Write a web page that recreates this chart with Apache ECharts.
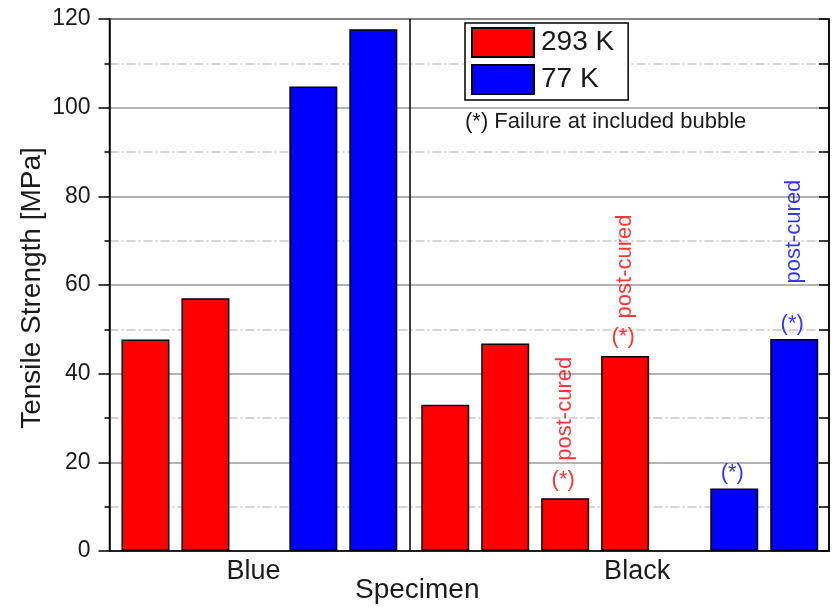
<!DOCTYPE html>
<html>
<head>
<meta charset="utf-8">
<script src="https://cdn.jsdelivr.net/npm/echarts@6/dist/echarts.min.js"></script>
<style>
html,body{margin:0;padding:0;background:#fff;}
#chart{width:832px;height:607px;}
</style>
</head>
<body>
<div id="chart"></div>
<script>
// ---- data ----
const categories = ['Blue', 'Black'];
const categoryPos = [12, 44];          // specimen-axis position of each group label
const dividerPos = 25;                 // boundary between groups
const seriesNames = ['293 K', '77 K'];
const pos293 = [3, 8, 28, 33, 38, 43];
const val293 = [47.7, 57.0, 33.0, 46.8, 11.9, 44.0];
const bubble293 = [0, 0, 0, 0, 1, 1];
const cured293 = [0, 0, 0, 0, 1, 1];
const pos77 = [17, 22, 52.1, 57.1];
const val77 = [104.8, 117.7, 14.1, 47.8];
const bubble77 = [0, 0, 1, 1];
const cured77 = [0, 0, 0, 1];
const yMin = 0, yMax = 120, yStep = 20;
const xMin = 0, xMax = 60;
const bubbleNote = '(*) Failure at included bubble';
const bubbleMark = '(*)';
const curedMark = 'post-cured';
const xTitle = 'Specimen';
const yTitle = 'Tensile Strength [MPa]';

// ---- helpers ----
const FONT = 'Liberation Sans, Arial, Helvetica, sans-serif';
const RED = '#ff0000', BLUE = '#0000ff', TXT = '#1a1a1a';
function pairs(pos, val, flags) {
  const out = [];
  pos.forEach((p, i) => { if (!flags || flags[i]) out.push([p, val[i]]); });
  return out;
}
function annot(name, data, text, color, opts) {
  return Object.assign({
    name: name, type: 'scatter', data: data, symbolSize: 1,
    itemStyle: {color: 'transparent'}, silent: true, z: 5,
    label: Object.assign({show: true, formatter: text, color: color,
      fontSize: 22, fontFamily: FONT}, opts)
  });
}

const chart = echarts.init(document.getElementById('chart'), null, {renderer: 'canvas'});
const option = {
  animation: false,
  backgroundColor: '#fff',
  grid: {left: 109.5, right: 2, top: 19, bottom: 56, show: true,
         borderColor: '#000', borderWidth: 1.5, backgroundColor: 'transparent'},
  legend: {
    data: seriesNames, orient: 'vertical', left: 465, top: 23,
    icon: 'rect',
    itemWidth: 62, itemHeight: 29, itemGap: 6,
    padding: [4, 14, 5, 6], borderColor: '#000', borderWidth: 1.5,
    backgroundColor: '#fff',
    textStyle: {fontSize: 28, color: TXT, fontFamily: FONT, padding: [0, 0, 0, 2]},
    selectedMode: false
  },
  xAxis: {
    type: 'value', min: xMin, max: xMax, interval: 4,
    axisLine: {show: true, lineStyle: {color: '#000', width: 1.5}},
    axisTick: {show: false}, splitLine: {show: false},
    axisLabel: {
      margin: 7, fontSize: 27, color: TXT, fontFamily: FONT,
      showMinLabel: true, showMaxLabel: true,
      formatter: function (v) {
        const i = categoryPos.findIndex(p => Math.abs(p - v) < 1e-6);
        return i >= 0 ? categories[i] : '';
      }
    }
  },
  yAxis: [{
    type: 'value', min: yMin, max: yMax, interval: yStep, position: 'left',
    axisLine: {show: true, lineStyle: {color: '#000', width: 1.5}},
    axisTick: {show: true, inside: false, length: 11, lineStyle: {color: '#000', width: 1.5}},
    minorTick: {show: true, splitNumber: 2, length: 5, lineStyle: {color: '#000', width: 1.5}},
    splitLine: {show: true, lineStyle: {color: '#9a9a9a', width: 1.5}},
    minorSplitLine: {show: true, lineStyle: {color: '#c8c8c8', width: 1.5, type: [9, 3, 2, 3]}},
    axisLabel: {margin: 19, fontSize: 23, color: TXT, fontFamily: FONT}
  }, {
    type: 'value', min: yMin, max: yMax, interval: yStep / 2, position: 'right',
    axisLine: {show: true, lineStyle: {color: '#000', width: 1.5}},
    axisTick: {show: true, inside: true, length: 10, lineStyle: {color: '#000', width: 1.5}},
    axisLabel: {show: false}, splitLine: {show: false}
  }],
  graphic: [
    {type: 'text', left: 355, top: 576,
     style: {text: xTitle, fontSize: 28, fill: TXT, fontFamily: FONT}},
    {type: 'text', x: 32, y: 288, rotation: Math.PI / 2,
     style: {text: yTitle, fontSize: 28, fill: TXT, fontFamily: FONT,
             align: 'center', verticalAlign: 'middle'}},
    {type: 'text', left: 465, top: 111,
     style: {text: bubbleNote, fontSize: 22, fill: TXT, fontFamily: FONT}}
  ],
  series: [
    {
      name: seriesNames[0], type: 'bar', data: pairs(pos293, val293),
      barWidth: 48, barGap: '-100%', z: 3,
      itemStyle: {color: RED, borderColor: '#000', borderWidth: 1.5},
      markLine: {
        silent: true, symbol: 'none', label: {show: false},
        lineStyle: {color: '#000', width: 1.5, type: 'solid'},
        data: [{xAxis: dividerPos}]
      }
    },
    {
      name: seriesNames[1], type: 'bar', data: pairs(pos77, val77),
      barWidth: 48, barGap: '-100%', z: 3,
      itemStyle: {color: BLUE, borderColor: '#000', borderWidth: 1.5}
    },
    annot('b293', pairs(pos293, val293, bubble293), bubbleMark, RED,
          {position: 'top', distance: 7, offset: [-2, 0]}),
    annot('b77', pairs(pos77, val77, bubble77), bubbleMark, BLUE,
          {position: 'top', distance: 4, offset: [-2, 0]}),
    annot('c293', pairs(pos293, val293, cured293), curedMark, RED,
          {position: 'top', distance: 39, rotate: 90, align: 'left', verticalAlign: 'middle', offset: [-2, 0]}),
    annot('c77', pairs(pos77, val77, cured77), curedMark, BLUE,
          {position: 'top', distance: 57, rotate: 90, align: 'left', verticalAlign: 'middle', offset: [-2, 0]})
  ]
};
chart.setOption(option);
</script>
</body>
</html>
